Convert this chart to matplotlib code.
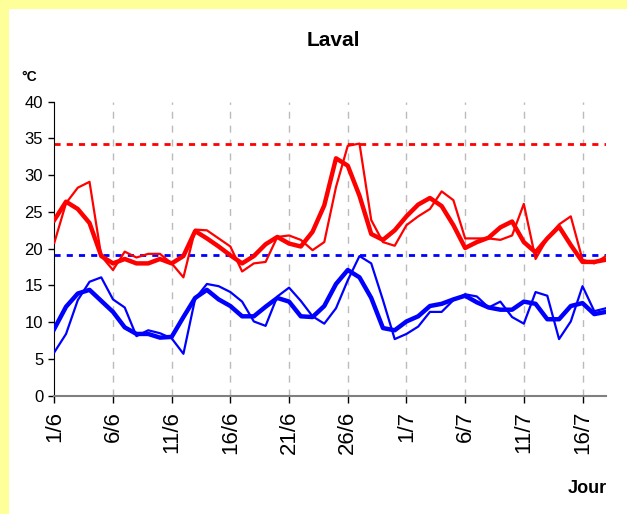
import matplotlib.pyplot as plt
from matplotlib.patches import Rectangle

plt.rcParams['font.family'] = ['Liberation Sans', 'DejaVu Sans']

# days 1/6 .. 18/7
days = [f"{d}/6" for d in range(1, 31)] + [f"{d}/7" for d in range(1, 19)]
tick_idx = list(range(0, 48, 5))
tick_labels = [days[i] for i in tick_idx]

tmax = [20.8, 26.2, 28.3, 29.1, 19.0, 17.1, 19.6, 18.8, 19.3, 19.3,
        18.0, 16.1, 22.6, 22.5, 21.4, 20.3, 16.9, 18.0, 18.2, 21.6,
        21.8, 21.2, 19.8, 20.9, 28.4, 34.0, 34.3, 23.9, 20.9, 20.4,
        23.2, 24.4, 25.4, 27.8, 26.6, 21.4, 21.4, 21.4, 21.2, 21.8,
        26.1, 18.6, 21.4, 23.3, 24.4, 18.5, 18.0, 19.0]
tmax_smooth = [23.9, 26.4, 25.4, 23.5, 19.0, 18.0, 18.6, 18.0, 18.0, 18.6,
               18.0, 19.0, 22.4, 21.4, 20.3, 19.1, 18.0, 19.0, 20.6, 21.6,
               20.7, 20.3, 22.3, 25.9, 32.3, 31.3, 27.2, 22.0, 21.2, 22.5,
               24.4, 26.0, 26.9, 25.8, 23.2, 20.1, 20.9, 21.5, 22.9, 23.7,
               20.9, 19.5, 21.4, 23.0, 20.5, 18.2, 18.2, 18.5]
tmin = [5.9, 8.4, 13.0, 15.5, 16.1, 13.1, 12.0, 8.1, 8.9, 8.5,
        7.8, 5.7, 13.2, 15.2, 14.9, 14.1, 12.8, 10.1, 9.5, 13.5,
        14.7, 12.9, 10.8, 9.8, 11.9, 15.7, 19.0, 18.0, 13.0, 7.7,
        8.4, 9.4, 11.4, 11.4, 13.0, 13.8, 13.5, 12.0, 12.8, 10.7,
        9.8, 14.1, 13.6, 7.7, 10.1, 14.9, 11.5, 11.9]
tmin_smooth = [9.1, 12.1, 13.9, 14.4, 12.9, 11.4, 9.3, 8.4, 8.4, 7.9,
               8.0, 10.7, 13.3, 14.4, 13.1, 12.2, 10.8, 10.8, 12.1, 13.3,
               12.8, 10.8, 10.7, 12.2, 15.2, 17.1, 16.1, 13.3, 9.2, 8.9,
               10.1, 10.8, 12.2, 12.5, 13.1, 13.6, 12.7, 12.0, 11.7, 11.7,
               12.8, 12.5, 10.4, 10.4, 12.2, 12.6, 11.1, 11.4]
ref_max = 34.2
ref_min = 19.2

fig = plt.figure(figsize=(6.27, 5.14), dpi=100, facecolor='white')
# yellow frame on top and left
fig.patches.append(Rectangle((0, 1 - 9 / 514), 1, 9 / 514, transform=fig.transFigure,
                             facecolor='#FFFF99', edgecolor='none'))
fig.patches.append(Rectangle((0, 0), 9 / 627, 1, transform=fig.transFigure,
                             facecolor='#FFFF99', edgecolor='none'))

ax = fig.add_axes([0.0866, 0.2302, 0.8799, 0.5719])
x = list(range(len(days)))

for i in tick_idx[1:]:
    ax.axvline(i, color='#BBBBBB', lw=1, ls=(0, (5, 5)), zorder=1)

ax.axhline(ref_max, color='red', lw=2, ls=(0, (2.2, 2.2)), zorder=2)
ax.axhline(ref_min, color='blue', lw=2, ls=(0, (2.2, 2.2)), zorder=2)

ax.plot(x, tmax, color='red', lw=1.6, zorder=3)
ax.plot(x, tmax_smooth, color='red', lw=3.2, zorder=4)
ax.plot(x, tmin, color='blue', lw=1.6, zorder=3)
ax.plot(x, tmin_smooth, color='blue', lw=3.2, zorder=4)

ax.set_xlim(0, 47)
ax.set_ylim(0, 40)
ax.set_yticks(range(0, 41, 5))
ax.set_xticks(tick_idx)
ax.set_xticklabels(tick_labels, rotation=90, fontsize=16)
ax.tick_params(axis='y', labelsize=12, length=4, width=1, pad=4)
ax.tick_params(axis='x', length=5, width=1, color='black', pad=6)

for s in ['top', 'right']:
    ax.spines[s].set_visible(False)
ax.spines['left'].set_color('black')
ax.spines['bottom'].set_color('#808080')
ax.spines['bottom'].set_linewidth(1.5)

fig.text(0.531, 0.922, 'Laval', ha='center', va='center', fontsize=15, fontweight='bold')
fig.text(0.047, 0.85, '°C', ha='center', va='center', fontsize=10, fontweight='bold')
fig.text(0.937, 0.05, 'Jour', ha='center', va='center', fontsize=13, fontweight='bold')

fig.savefig('out.png', dpi=100, facecolor=fig.get_facecolor())
